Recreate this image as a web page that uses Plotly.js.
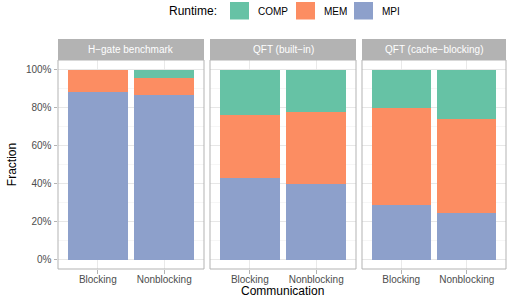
<!DOCTYPE html>
<html><head><meta charset="utf-8">
<script src="https://cdn.plot.ly/plotly-3.0.1.min.js"></script>
<style>html,body{margin:0;padding:0;background:#fff}#c{width:507px;height:298px}</style>
</head><body><div id="c"></div>
<script>
const panels = ["H\u2212gate benchmark", "QFT (built\u2212in)", "QFT (cache\u2212blocking)"];
const categories = ["Blocking", "Nonblocking"];
const seriesNames = ["MPI", "MEM", "COMP"];
const seriesColors = ["#8da0cb", "#fc8d62", "#66c2a5"];
// fractions per panel: [Blocking, Nonblocking]
const mpi  = [[0.883, 0.867], [0.430, 0.395], [0.288, 0.247]];
const mem  = [[0.112, 0.089], [0.332, 0.379], [0.507, 0.495]];
const comp = [[0.005, 0.044], [0.238, 0.226], [0.205, 0.258]];
const yTicks = [0, 0.2, 0.4, 0.6, 0.8, 1.0];
const legendOrder = ["COMP", "MEM", "MPI"];

const seriesVals = [mpi, mem, comp];
const traces = [];
panels.forEach((p, i) => {
  const xa = i === 0 ? 'x' : 'x' + (i + 1);
  seriesNames.forEach((s, k) => {
    traces.push({
      type: 'bar', x: categories, y: seriesVals[k][i], name: s,
      xaxis: xa, yaxis: 'y', marker: {color: seriesColors[k], line: {width: 0}},
      showlegend: false, hoverinfo: 'skip'
    });
  });
});

const W = 448, H = 209, L = 58, T = 60;
const px = v => (v - L) / W;
const py = v => 1 + (T - v) / H;
const doms = [[58, 204], [210, 356], [362, 506]].map(d => [px(d[0]), px(d[1])]);
const gridc = '#e3e3e3', borderc = '#b3b3b3', tickc = '#4d4d4d';
const font = 'Liberation Sans, Arial, sans-serif';

function xax(i) {
  return {
    domain: doms[i], anchor: 'y', type: 'category', range: [-0.6, 1.6],
    showgrid: true, gridcolor: gridc, gridwidth: 0.8,
    ticks: 'outside', ticklen: 3.5, tickcolor: borderc, tickwidth: 1,
    ticklabelstandoff: -3,
    tickfont: {family: font, size: 10, color: tickc},
    showline: false, zeroline: false, fixedrange: true
  };
}

const shapes = [], annotations = [];
panels.forEach((p, i) => {
  const xr = (i === 0 ? 'x' : 'x' + (i + 1)) + ' domain';
  shapes.push({type: 'rect', xref: xr, yref: 'paper', x0: 0, x1: 1, y0: 1, y1: py(39),
    fillcolor: '#b3b3b3', line: {width: 0}, layer: 'above'});
  shapes.push({type: 'rect', xref: xr, yref: 'y domain', x0: 0, x1: 1, y0: 0, y1: 1,
    fillcolor: 'rgba(0,0,0,0)', line: {color: borderc, width: 1}, layer: 'above'});
  annotations.push({text: p, xref: xr, yref: 'paper', x: 0.5, y: py(49.5),
    xanchor: 'center', yanchor: 'middle', showarrow: false,
    font: {family: font, size: 10, color: '#ffffff'}});
});

// x-axis title centred under all panels
annotations.push({text: 'Communication', xref: 'paper', yref: 'paper', x: 0.5, y: py(299),
  xanchor: 'center', yanchor: 'bottom', showarrow: false, borderpad: 0,
  font: {family: font, size: 12, color: '#000'}});

// legend (drawn manually to match ggplot key sizes)
annotations.push({text: 'Runtime:', xref: 'paper', yref: 'paper', x: px(219), y: py(11),
  xanchor: 'right', yanchor: 'middle', showarrow: false,
  font: {family: font, size: 12, color: '#000'}});
const keyX = [230, 296, 354];
legendOrder.forEach((s, j) => {
  const col = seriesColors[seriesNames.indexOf(s)];
  shapes.push({type: 'rect', xref: 'paper', yref: 'paper',
    x0: px(keyX[j]), x1: px(keyX[j] + 19), y0: py(19.5), y1: py(2),
    fillcolor: col, line: {width: 0}});
  annotations.push({text: s, xref: 'paper', yref: 'paper', x: px(keyX[j] + 26), y: py(11),
    xanchor: 'left', yanchor: 'middle', showarrow: false,
    font: {family: font, size: 10, color: '#000'}});
});

const layout = {
  width: 507, height: 298,
  margin: {l: 58, r: 1, t: 60, b: 29},
  paper_bgcolor: '#fff', plot_bgcolor: '#fff',
  barmode: 'stack', bargap: 0.1, showlegend: false,
  xaxis: xax(0), xaxis2: xax(1), xaxis3: xax(2),
  yaxis: {
    domain: [0, 1], range: [-0.05, 1.05], tickvals: yTicks, tickformat: '.0%',
    showgrid: true, gridcolor: gridc, gridwidth: 0.8,
    minor: {dtick: 0.1, tick0: 0, showgrid: true, gridcolor: '#eeeeee', gridwidth: 0.5, ticks: ''},
    ticks: 'outside', ticklen: 3.5, tickcolor: borderc,
    tickfont: {family: font, size: 10, color: tickc},
    zeroline: false, showline: false, fixedrange: true,
    title: {text: 'Fraction', font: {family: font, size: 12, color: '#000'}, standoff: 6}
  },
  shapes: shapes, annotations: annotations,
  font: {family: font}
};

Plotly.newPlot('c', traces, layout, {staticPlot: true, displayModeBar: false});
</script></body></html>
